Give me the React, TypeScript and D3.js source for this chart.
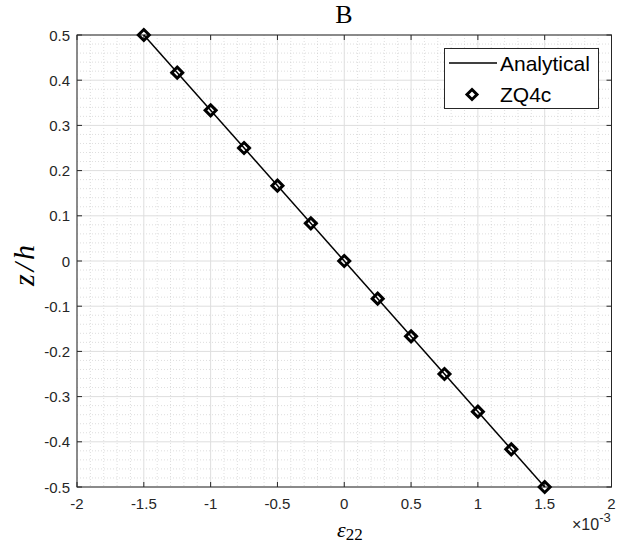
import React from "react";
import * as d3 from "d3";

const strainE3: number[] = [-1.5, -1.25, -1.0, -0.75, -0.5, -0.25, 0, 0.25, 0.5, 0.75, 1.0, 1.25, 1.5];
const zOverH: number[] = [0.5, 0.4167, 0.3333, 0.25, 0.1667, 0.0833, 0, -0.0833, -0.1667, -0.25, -0.3333, -0.4167, -0.5];
const analyticalX: number[] = [-1.5, 1.5];
const analyticalZ: number[] = [0.5, -0.5];
const xTicks: number[] = [-2, -1.5, -1, -0.5, 0, 0.5, 1, 1.5, 2];
const yTicks: number[] = [-0.5, -0.4, -0.3, -0.2, -0.1, 0, 0.1, 0.2, 0.3, 0.4, 0.5];
const legendLabels: string[] = ["Analytical", "ZQ4c"];

const W = 627, H = 544;
const L = 77, R = 611.5, T = 35, B = 487;
const axisColor = "#262626";
const font = "Arial, 'Liberation Sans', Helvetica, sans-serif";
const serif = "'Liberation Serif', 'DejaVu Serif', 'Times New Roman', serif";

export default function App() {
  const x = d3.scaleLinear().domain([-2, 2]).range([L, R]);
  const y = d3.scaleLinear().domain([-0.5, 0.5]).range([B, T]);
  const xMinor = d3.range(-20, 21).map((i) => i / 10).filter((v) => Math.abs(v * 2 - Math.round(v * 2)) > 1e-6);
  const yMinor = d3.range(-25, 26).map((i) => i / 50).filter((v) => Math.abs(v * 10 - Math.round(v * 10)) > 1e-6);
  const line = d3.line<number>().x((_, i) => x(analyticalX[i])).y((d) => y(d));
  const diamond = (cx: number, cy: number, r: number) =>
    `M${cx},${cy - r}L${cx + r},${cy}L${cx},${cy + r}L${cx - r},${cy}Z`;
  const fmt = (v: number) => (Math.abs(v) < 1e-9 ? "0" : String(v));
  const tl = 5;
  return (
    <svg width={W} height={H} style={{ display: "block", position: "absolute", left: 0, top: 0 }}>
      <rect x={0} y={0} width={W} height={H} fill="#fff" />
      <rect x={L} y={T} width={R - L} height={B - T} fill="#fff" />
      {/* minor grid */}
      <g stroke="#c8c8c8" strokeWidth={0.6} strokeDasharray="1,2">
        {xMinor.map((v) => (
          <line key={"xm" + v} x1={x(v)} x2={x(v)} y1={T} y2={B} />
        ))}
        {yMinor.map((v) => (
          <line key={"ym" + v} x1={L} x2={R} y1={y(v)} y2={y(v)} />
        ))}
      </g>
      {/* major grid */}
      <g stroke="#dedede" strokeWidth={1}>
        {xTicks.map((v) => (
          <line key={"xg" + v} x1={x(v)} x2={x(v)} y1={T} y2={B} />
        ))}
        {yTicks.map((v) => (
          <line key={"yg" + v} x1={L} x2={R} y1={y(v)} y2={y(v)} />
        ))}
      </g>
      {/* box & ticks */}
      <rect x={L} y={T} width={R - L} height={B - T} fill="none" stroke={axisColor} strokeWidth={1} />
      <g stroke={axisColor} strokeWidth={1}>
        {xTicks.map((v) => (
          <g key={"xt" + v}>
            <line x1={x(v)} x2={x(v)} y1={B} y2={B - tl} />
            <line x1={x(v)} x2={x(v)} y1={T} y2={T + tl} />
          </g>
        ))}
        {yTicks.map((v) => (
          <g key={"yt" + v}>
            <line x1={L} x2={L + tl} y1={y(v)} y2={y(v)} />
            <line x1={R} x2={R - tl} y1={y(v)} y2={y(v)} />
          </g>
        ))}
      </g>
      <g fill={axisColor} fontFamily={font} fontSize={15}>
        {xTicks.map((v) => (
          <text key={"xl" + v} x={x(v)} y={B + 22} textAnchor="middle">
            {fmt(v)}
          </text>
        ))}
        {yTicks.map((v) => (
          <text key={"yl" + v} x={L - 7} y={y(v) + 5.5} textAnchor="end">
            {fmt(v)}
          </text>
        ))}
        <text x={572} y={530} fontSize={16}>
          <tspan>×10</tspan>
          <tspan dy={-8} fontSize={13}>-3</tspan>
        </text>
      </g>
      {/* data */}
      <path d={line(analyticalZ) || ""} fill="none" stroke="#000" strokeWidth={1.5} />
      <g fill="none" stroke="#000" strokeWidth={3}>
        {strainE3.map((v, i) => (
          <path key={"m" + i} d={diamond(x(v), y(zOverH[i]), 5.5)} />
        ))}
      </g>
      {/* title & labels */}
      <text x={344} y={23} textAnchor="middle" fontFamily={serif} fontSize={26} fill="#000">
        B
      </text>
      <text
        transform={`translate(34,264) rotate(-90)`}
        textAnchor="middle"
        fontFamily={serif}
        fontStyle="italic"
        fontSize={30}
        letterSpacing={3}
        fill="#000"
      >
        z/h
      </text>
      <text x={337} y={537} fontFamily={serif} fontSize={22} fill="#000">
        <tspan fontStyle="italic">ε</tspan>
        <tspan dy={3} fontSize={17}>22</tspan>
      </text>
      {/* legend */}
      <rect x={444.5} y={48.5} width={154} height={60} fill="#fff" stroke={axisColor} strokeWidth={1} />
      <line x1={449} x2={497} y1={63} y2={63} stroke="#000" strokeWidth={1.5} />
      <path d={diamond(472, 94.5, 5)} fill="none" stroke="#000" strokeWidth={3} />
      <g fontFamily={font} fontSize={21} fill="#000">
        <text x={500} y={71}>{legendLabels[0]}</text>
        <text x={500} y={102}>{legendLabels[1]}</text>
      </g>
    </svg>
  );
}
